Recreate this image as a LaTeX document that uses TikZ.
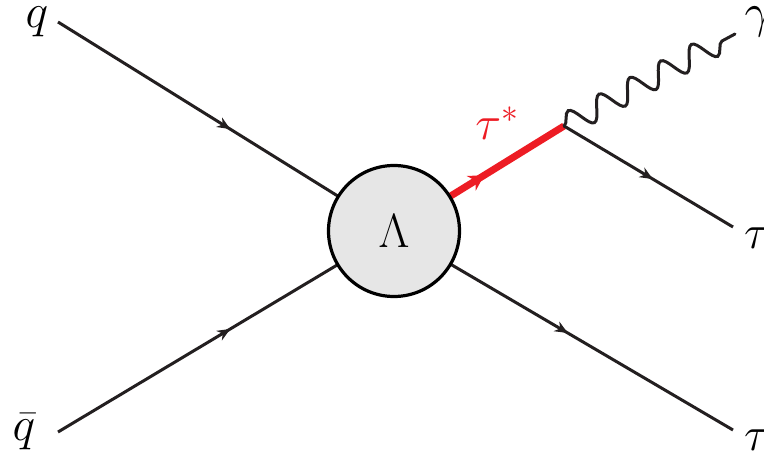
\RequirePackage{fix-cm}
\documentclass[tikz,border=0pt]{standalone}
\usetikzlibrary{arrows.meta, positioning, decorations.pathmorphing, decorations.markings}
\definecolor{lineblack}{RGB}{35,31,32}
\definecolor{taured}{RGB}{237,28,36}
\definecolor{blobgray}{RGB}{230,230,230}

\begin{document}
\begin{tikzpicture}[x=1pt, y=-1pt,
  fermion/.style={lineblack, line width=3pt, postaction={decorate},
    decoration={markings, mark=at position 0.5 with {\arrow[xshift=5pt]{Stealth[length=13pt,width=11pt]}}}},
  taustar/.style={taured, line width=7pt, postaction={decorate},
    decoration={markings, mark=at position 0.5 with {\arrow[xshift=6pt]{Stealth[length=15pt,width=17pt]}}}},
  photon/.style={lineblack, line width=3pt, line cap=round, decorate,
    decoration={snake, segment length=35pt, amplitude=11.5pt}},
  blob/.style={circle, draw=black, line width=3.2pt, fill=blobgray, minimum size=131pt, inner sep=0pt,
    font=\fontsize{48}{56}\selectfont},
  lbl/.style={font=\fontsize{48}{56}\selectfont, inner sep=0pt}]
  \useasboundingbox (0,0) rectangle (764,457);
  % vertices and line ends
  \coordinate (ctr) at (394,231);
  \coordinate (vtx) at (564,126);
  \coordinate (qend) at (58,22);
  \coordinate (qbend) at (58,432);
  \coordinate (tauAend) at (733,227);
  \coordinate (tauBend) at (733,430);
  \coordinate (gamend) at (735,34);
  % incoming quarks
  \draw[fermion] (qend) -- (ctr);
  \draw[fermion] (qbend) -- (ctr);
  % outgoing taus
  \draw[fermion] (ctr) -- (tauBend);
  \draw[taustar] (ctr) -- (vtx);
  \draw[fermion] (vtx) -- (tauAend);
  \draw[photon] (vtx) -- (gamend);
  % contact blob
  \node[blob] (blob) at (ctr) {$\Lambda$};
  % labels
  \node[lbl] (qlab) at (37,22) {$q$};
  \node[lbl] (qblab) at (24,432) {$\bar{q}$};
  \node[lbl, taured] (tslab) at (497,123) {$\tau^{*}$};
  \node[lbl] (gamlab) at (758,22) {$\gamma$};
  \node[lbl] (tauAlab) at (757,238) {$\tau$};
  \node[lbl] (tauBlab) at (757,440) {$\tau$};
\end{tikzpicture}
\end{document}
